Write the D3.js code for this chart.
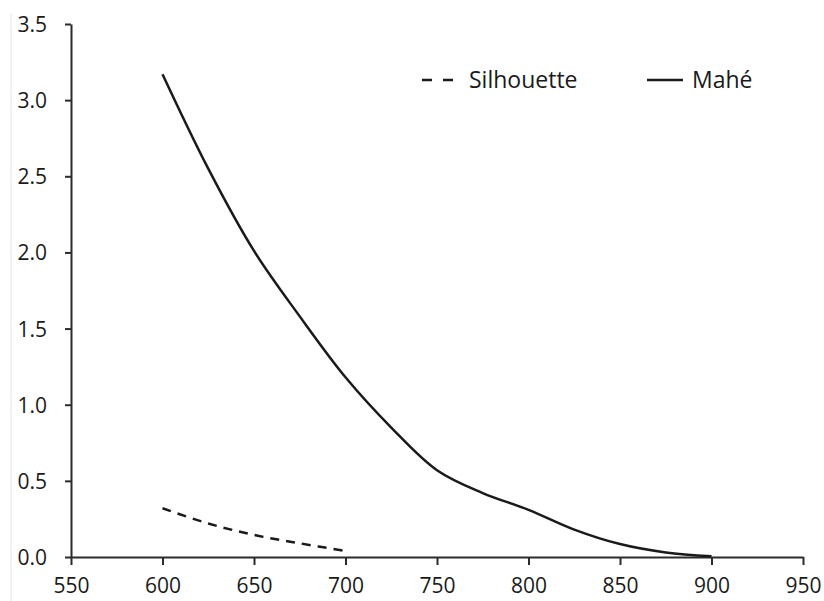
<!DOCTYPE html>
<html>
<head>
<meta charset="utf-8">
<script src="https://cdn.jsdelivr.net/npm/d3@7"></script>
<style>
  body { margin: 0; background: #fff; }
  text { font-family: "Open Sans", sans-serif; fill: #1a1a1a; }
</style>
</head>
<body>
<div id="chart"></div>
<script>
// values
var x_values = [600, 625, 650, 675, 700, 725, 750, 775, 800, 825, 850, 875, 900];
var mahe_values = [3.17, 2.55, 2.01, 1.58, 1.18, 0.85, 0.57, 0.42, 0.31, 0.18, 0.085, 0.03, 0.005];
var silhouette_x = [600, 625, 650, 675, 700];
var silhouette_values = [0.32, 0.22, 0.145, 0.09, 0.04];
var x_ticks = [550, 600, 650, 700, 750, 800, 850, 900, 950];
var y_ticks = [0, 0.5, 1.0, 1.5, 2.0, 2.5, 3.0, 3.5];
var legend_labels = ['Silhouette', 'Mahé'];

var svg_w = 824,
    svg_h = 601;

var margin = {top: 24, left: 71, right: 21, bottom: 44};

var svg = d3.select('#chart').append('svg')
    .attr('width', svg_w)
    .attr('height', svg_h);

// faint border at the left edge of the picture
svg.append('line')
  .attr('x1', 11).attr('x2', 11)
  .attr('y1', 13).attr('y2', svg_h)
  .attr('stroke', '#e3e3e3')
  .attr('stroke-width', 1);

var x = d3.scaleLinear()
    .domain([550, 950])
    .range([margin.left, svg_w - margin.right]);

var y = d3.scaleLinear()
    .domain([0, 3.5])
    .range([svg_h - margin.bottom, margin.top]);

var x_axis = svg.append('g')
    .attr('transform', 'translate(0,' + y(0) + ')')
    .call(d3.axisBottom(x).tickValues(x_ticks).tickSize(8).tickSizeOuter(0).tickPadding(13));

var y_axis = svg.append('g')
    .attr('transform', 'translate(' + x(550) + ',0)')
    .call(d3.axisLeft(y).tickValues(y_ticks).tickSize(6).tickSizeOuter(0).tickPadding(18)
      .tickFormat(d3.format('.1f')));

[x_axis, y_axis].forEach(function(g) {
  g.select('.domain').attr('stroke', '#2b2b2b').attr('stroke-width', 2);
  g.selectAll('.tick line').attr('stroke', '#2b2b2b').attr('stroke-width', 2);
  g.selectAll('.tick text')
    .attr('font-size', 21)
    .attr('font-family', '"Open Sans", sans-serif')
    .attr('fill', '#1a1a1a');
});
y_axis.selectAll('.tick text').attr('dy', '0.36em');

var line = d3.line()
    .x(function(d) { return x(d[0]); })
    .y(function(d) { return y(d[1]); })
    .curve(d3.curveCatmullRom);

svg.append('path')
  .datum(d3.zip(x_values, mahe_values))
  .attr('d', line)
  .attr('fill', 'none')
  .attr('stroke', '#1a1a1a')
  .attr('stroke-width', 2.5);

svg.append('path')
  .datum(d3.zip(silhouette_x, silhouette_values))
  .attr('d', line)
  .attr('fill', 'none')
  .attr('stroke', '#1a1a1a')
  .attr('stroke-width', 2.5)
  .attr('stroke-dasharray', '9,7');

// legend
var legend = svg.append('g');

legend.append('line')
  .attr('x1', 422).attr('x2', 453)
  .attr('y1', 80).attr('y2', 80)
  .attr('stroke', '#1a1a1a')
  .attr('stroke-width', 2.5)
  .attr('stroke-dasharray', '10,11');

legend.append('text')
  .attr('x', 469).attr('y', 88)
  .attr('font-size', 23)
  .text(legend_labels[0]);

legend.append('line')
  .attr('x1', 647).attr('x2', 683)
  .attr('y1', 80).attr('y2', 80)
  .attr('stroke', '#1a1a1a')
  .attr('stroke-width', 2.5);

legend.append('text')
  .attr('x', 692).attr('y', 88)
  .attr('font-size', 23)
  .text(legend_labels[1]);
</script>
</body>
</html>
